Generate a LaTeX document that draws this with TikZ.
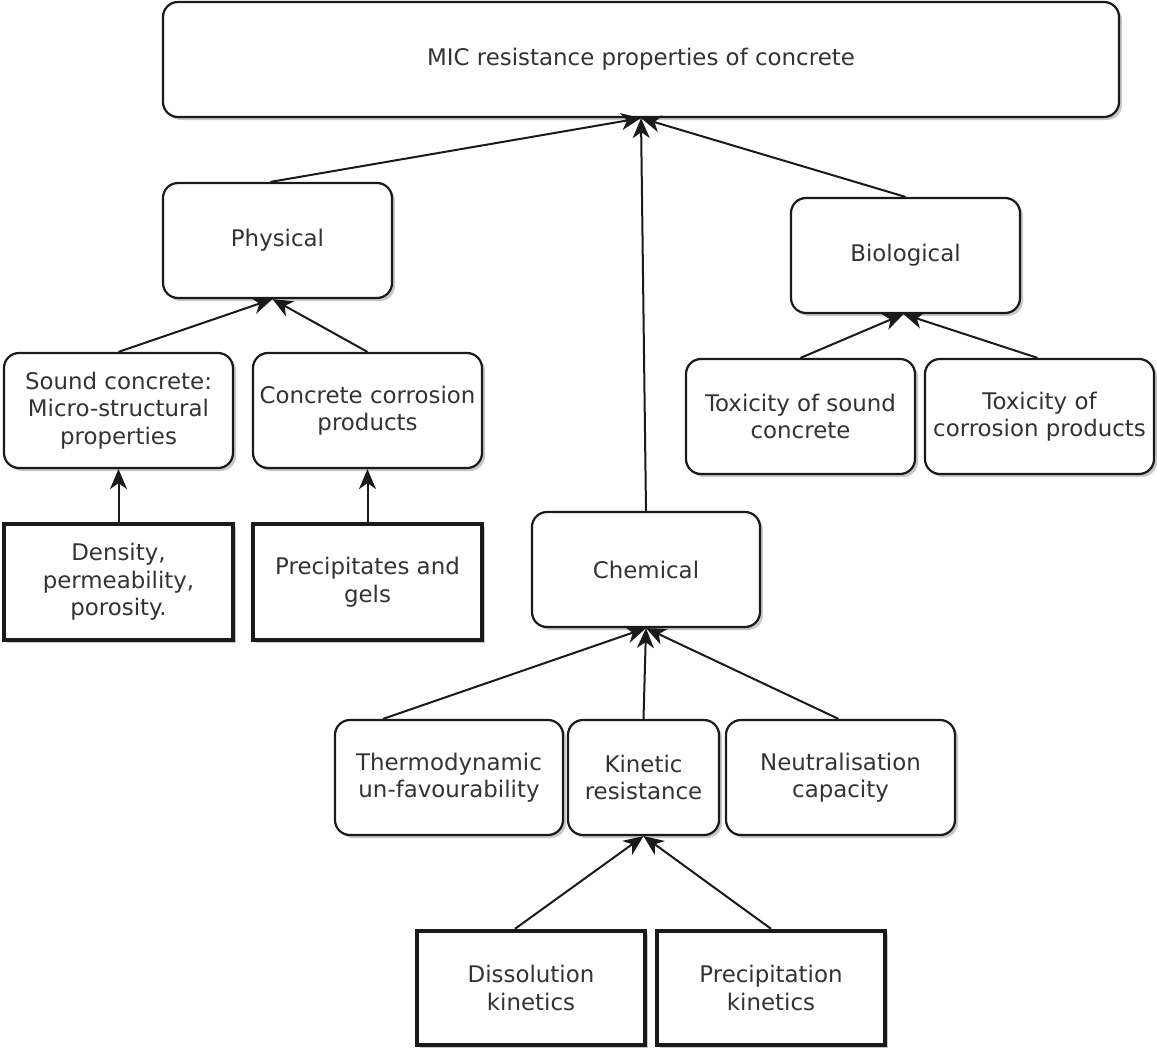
\documentclass[tikz,border=0pt]{standalone}
\usepackage{fontspec}
\setmainfont{DejaVu Sans}
\usetikzlibrary{arrows.meta,shadows,calc}
\definecolor{txt}{HTML}{333333}
\definecolor{ln}{HTML}{1A1A1A}
\tikzset{
  conn/.style={draw=ln, line width=2pt, -{Stealth[length=20pt,width=17pt,inset=6pt]}},
}
\begin{document}
\begin{tikzpicture}[x=1pt,y=-1pt,
  every node/.style={font=\fontsize{22.9}{27.5}\selectfont, text=txt, align=center, inner sep=0pt},
  rbox/.style={draw=ln, line width=2.2pt, rounded corners=15pt, fill=white,
     drop shadow={shadow xshift=3pt, shadow yshift=-3pt, fill=black!22, opacity=1}},
  bbox/.style={draw=ln, line width=4.4pt, fill=white,
     drop shadow={shadow xshift=3pt, shadow yshift=-3pt, fill=black!22, opacity=1}}]
\fill[white] (0,0) rectangle (1157,1049);
\useasboundingbox (0,0) rectangle (1157,1049);

\newcommand{\bx}[6]{\node[#1, minimum width=#4pt, minimum height=#5pt] (#2) at (#3) {#6};}

\bx{rbox}{top}{641,59.5}{956}{115}{MIC resistance properties of concrete}
\bx{rbox}{phys}{277.5,240.5}{229}{115}{Physical}
\bx{rbox}{bio}{905.5,255.5}{229}{115}{Biological}
\bx{rbox}{sound}{118.5,410.5}{229}{115}{Sound concrete:\\Micro-structural\\properties}
\bx{rbox}{ccp}{367.5,410.5}{229}{115}{Concrete corrosion\\products}
\bx{rbox}{toxs}{800.5,416.5}{229}{115}{Toxicity of sound\\concrete}
\bx{rbox}{toxc}{1039.5,416.5}{229}{115}{Toxicity of\\corrosion products}
\bx{bbox}{dens}{118.5,582}{229}{116}{Density,\\permeability,\\porosity.}
\bx{bbox}{prec}{367.5,582}{229}{116}{Precipitates and\\gels}
\bx{rbox}{chem}{646,569.5}{228}{115}{Chemical}
\bx{rbox}{thermo}{449,777.5}{228}{115}{Thermodynamic\\un-favourability}
\bx{rbox}{kin}{643.5,777.5}{151}{115}{Kinetic\\resistance}
\bx{rbox}{neut}{840.5,777.5}{229}{115}{Neutralisation\\capacity}
\bx{bbox}{diss}{531,988}{228}{114}{Dissolution\\kinetics}
\bx{bbox}{pkin}{771,988}{228}{114}{Precipitation\\kinetics}

\draw[conn] ([xshift=-7pt]phys.north) -- (top.south);
\draw[conn] (chem.north) -- (top.south);
\draw[conn] (bio.north) -- (top.south);
\draw[conn] (sound.north) -- ([xshift=-5pt]phys.south);
\draw[conn] (ccp.north) -- ([xshift=-5pt]phys.south);
\draw[conn] (dens.north) -- (sound.south);
\draw[conn] (prec.north) -- (ccp.south);
\draw[conn] (toxs.north) -- ([xshift=-2pt]bio.south);
\draw[conn] ([xshift=-2pt]toxc.north) -- ([xshift=-2pt]bio.south);
\draw[conn] ([xshift=-66pt]thermo.north) -- (chem.south);
\draw[conn] (kin.north) -- (chem.south);
\draw[conn] ([xshift=-2pt]neut.north) -- (chem.south);
\draw[conn] ([xshift=-16pt]diss.north) -- (kin.south);
\draw[conn] (pkin.north) -- (kin.south);
\end{tikzpicture}
\end{document}
